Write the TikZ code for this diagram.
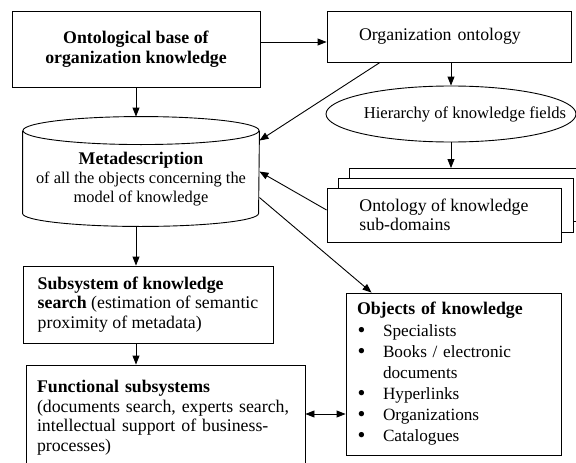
\documentclass[tikz,border=0pt]{standalone}
\usepackage{fontspec}
\setmainfont{Liberation Serif}
\usetikzlibrary{shapes.geometric,arrows.meta}

\newcommand{\bul}{\makebox[26pt][l]{\hspace{0.5pt}\raisebox{-0.6pt}{\scalebox{1.3}{\textbullet}}}}

\begin{document}
\begin{tikzpicture}[x=1pt, y=1pt, line width=0.9pt, >={Triangle[length=9pt,width=7pt]}]
        \tikzstyle{blk} = [draw, fill=white, inner ysep=0pt, font=\fontsize{17.8}{19.5}\selectfont]
        \useasboundingbox (0,0) rectangle (576,-463);
        \node[blk, minimum width=248pt, minimum height=76pt, align=center] (base) at (136,-49) {\textbf{Ontological base of}\\\textbf{organization knowledge}};
        \node[blk, minimum width=244pt, minimum height=51pt, inner xsep=32pt, text width=180pt, align=left] (org) at (449,-36.5) {Organization ontology};
        \node[draw, ellipse, minimum width=250pt, minimum height=56pt, inner sep=0pt,
              label={[xshift=14pt, font=\fontsize{16.6}{19}\selectfont]center:Hierarchy of knowledge fields}] (hier) at (451,-114) {};
        % stacked sub-domain sheets
        \node[blk, minimum width=235pt, minimum height=53pt] (ontB) at (467,-195) {};
        \node[blk, minimum width=235pt, minimum height=54pt] (ontM) at (455.5,-205) {};
        \node[blk, minimum width=234pt, minimum height=54pt, align=left] (ontF) at (444,-215) {Ontology of knowledge\\sub-domains};
        % metadata store
        \node[minimum width=236pt, minimum height=94pt, inner sep=0pt, align=center, font=\fontsize{16.4}{19}\selectfont] (meta) at (141,-179) {\textbf{\fontsize{17.8}{19}\selectfont Metadescription}\\of all the objects concerning the\\model of knowledge};
        \draw (meta.north) ++(0,1) ellipse (118pt and 14pt);
        \draw ([yshift=1pt]meta.north west) -- ([yshift=13pt]meta.south west) arc (180:360:118pt and 13pt) -- ([yshift=1pt]meta.north east);
        \coordinate (metatop) at ([yshift=15pt]meta.north);
        \node[blk, minimum width=250pt, minimum height=77pt, align=left] (search) at (148,-304.5) {\textbf{Subsystem of knowledge}\\\textbf{search} (estimation of semantic\\proximity of metadata)};
        \node[blk, minimum width=279pt, minimum height=105pt, inner xsep=11pt, text width=257pt, align=left] (func) at (165.5,-417.5) {\textbf{Functional subsystems}\\(documents search, experts search,\\intellectual support of business-\\processes)};
        \node[blk, minimum width=215pt, minimum height=162pt, inner xsep=11pt, text width=193pt, align=left, font=\fontsize{17.2}{21}\selectfont] (obj) at (453.5,-374) {\textbf{\fontsize{17.8}{21}\selectfont Objects of knowledge}\\[1pt]\bul Specialists\\\bul Books / electronic\\\hspace*{26pt}documents\\\bul Hyperlinks\\\bul Organizations\\\bul Catalogues};
        \draw[->] ([yshift=7pt]base.east) -- ([yshift=-5.5pt]org.west);
        \draw[->] (org.south -| hier.north) -- (hier.north);
        \draw[->] ([xshift=-69pt]org.south) -- ([yshift=-9pt]meta.north east);
        \draw[->] (base.south) -- (base.south |- metatop);
        \draw[->] (hier.south) -- (hier.south |- ontB.north);
        \draw[->] ([yshift=5pt]ontF.west) -- ([yshift=-40pt]meta.north east);
        \draw[->] ([yshift=-66pt]meta.north east) -- ([xshift=26pt]obj.north west);
        \draw[->] (base.south |- meta.south) -- (base.south |- search.north);
        \draw[->] (base.south |- search.south) -- (base.south |- func.north);
        \draw[<->] ([yshift=3.5pt]func.east) -- ([yshift=-40pt]obj.west);
      \end{tikzpicture}
\end{document}
